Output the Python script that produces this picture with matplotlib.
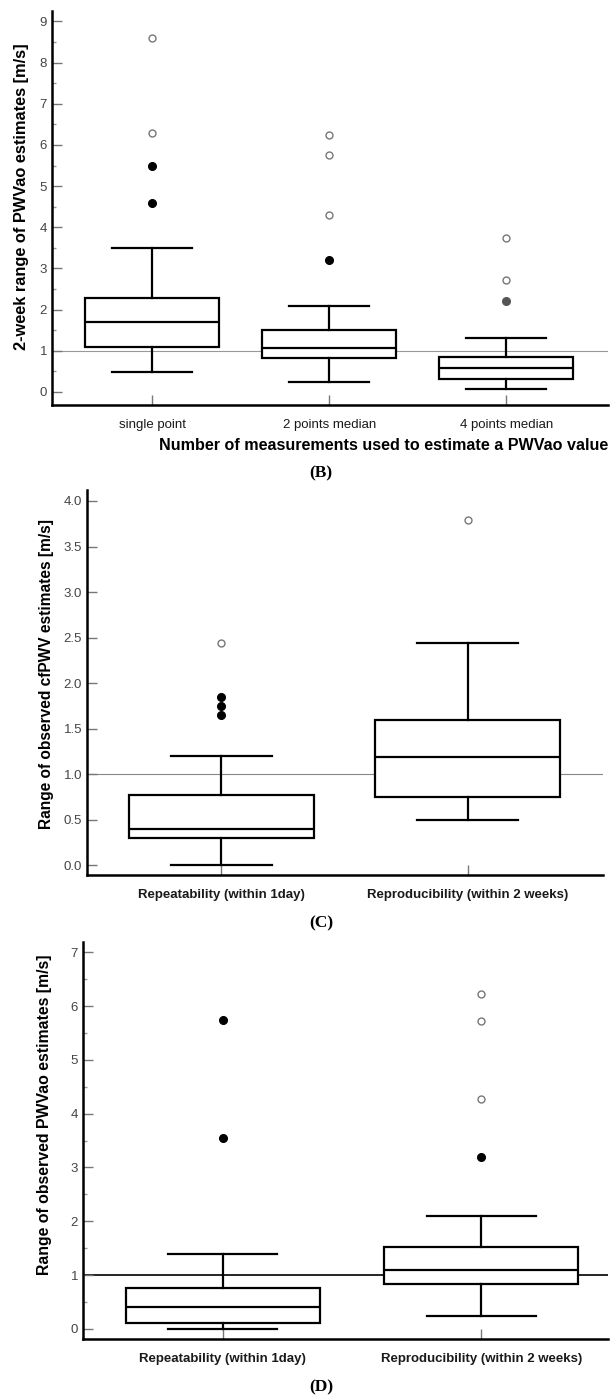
import numpy as np
import matplotlib.pyplot as plt
from matplotlib.ticker import MultipleLocator

plt.rcParams['font.family'] = ['Liberation Sans', 'DejaVu Sans']

# panel (B): 2-week range, by number of measurements
b_labels = ['single point', '2 points median', '4 points median']
b_whislo = [0.48, 0.23, 0.07]
b_q1 = [1.09, 0.83, 0.32]
b_med = [1.69, 1.07, 0.57]
b_q3 = [2.28, 1.51, 0.85]
b_whishi = [3.49, 2.09, 1.31]
b_extreme = [[4.6, 5.5], [3.2], [2.21]]
b_outliers = [[6.29, 8.6], [4.29, 5.75, 6.24], [2.72, 3.73]]

# panel (C): cfPWV
c_labels = ['Repeatability (within 1day)', 'Reproducibility (within 2 weeks)']
c_whislo = [0.0, 0.49]
c_q1 = [0.30, 0.75]
c_med = [0.40, 1.19]
c_q3 = [0.77, 1.59]
c_whishi = [1.20, 2.44]
c_extreme = [[1.65, 1.75, 1.85], []]
c_outliers = [[2.44], [3.79]]

# panel (D): PWVao
d_labels = ['Repeatability (within 1day)', 'Reproducibility (within 2 weeks)']
d_whislo = [0.0, 0.235]
d_q1 = [0.105, 0.83]
d_med = [0.40, 1.09]
d_q3 = [0.77, 1.52]
d_whishi = [1.40, 2.10]
d_extreme = [[3.545, 5.74], [3.2]]
d_outliers = [[], [4.28, 5.72, 6.23]]


def panel(ax, labels, lo, q1, med, q3, hi, extreme, outliers, width, capw,
          xlim, ylim, ref_color, ref_lw, tick_bold, ext_colors=None):
    pos = np.arange(1, len(labels) + 1)
    stats = []
    for i in range(len(labels)):
        stats.append({'whislo': lo[i], 'q1': q1[i], 'med': med[i],
                      'q3': q3[i], 'whishi': hi[i], 'fliers': []})
    ax.axhline(1, color=ref_color, lw=ref_lw, zorder=1)
    line = dict(color='black', linewidth=1.6)
    ax.bxp(stats, positions=pos, widths=width, capwidths=capw,
           showfliers=False, patch_artist=True,
           boxprops=dict(facecolor='white', edgecolor='black', linewidth=1.6),
           medianprops=line, whiskerprops=line, capprops=line, zorder=2)
    for i in range(len(labels)):
        col = 'black' if ext_colors is None else ext_colors[i]
        ax.plot([pos[i]] * len(extreme[i]), extreme[i], 'o', color=col,
                ms=5.5, zorder=3)
        ax.plot([pos[i]] * len(outliers[i]), outliers[i], 'o', mfc='white',
                mec='#777777', mew=1.0, ms=5, zorder=3)
    ax.set_xlim(xlim)
    ax.set_ylim(ylim)
    ax.set_xticks(pos)
    ax.set_xticklabels(labels, fontsize=9 if not tick_bold else 8.1,
                       fontweight='bold' if tick_bold else 'normal')
    ax.spines['top'].set_visible(False)
    ax.spines['right'].set_visible(False)
    ax.spines['left'].set_linewidth(1.8)
    ax.spines['bottom'].set_linewidth(1.8)
    ax.tick_params(direction='in', length=7, width=1, color='#777777',
                   labelcolor='#444444', labelsize=9.5)
    ax.tick_params(axis='x', pad=10, labelcolor='#1a1a1a')
    ax.tick_params(which='minor', direction='in', length=3, width=1,
                   color='#999999')


fig = plt.figure(figsize=(6.1, 13.99), dpi=100)

ax1 = fig.add_axes([0.0852, 0.7105, 0.912, 0.2815])
panel(ax1, b_labels, b_whislo, b_q1, b_med, b_q3, b_whishi, b_extreme,
      b_outliers, 0.757, 0.45, (0.435, 3.576), (-0.32, 9.25), '#999999', 0.8,
      False, ext_colors=['black', 'black', '#555555'])
ax1.yaxis.set_major_locator(MultipleLocator(1))
ax1.yaxis.set_minor_locator(MultipleLocator(0.5))
ax1.set_ylabel('2-week range of PWVao estimates [m/s]', fontsize=11.8,
               fontweight='bold')
ax1.yaxis.set_label_coords(-0.041, 0.53)
fig.text(608 / 610, 1 - 445 / 1399,
         'Number of measurements used to estimate a PWVao value',
         ha='right', va='center', fontsize=11.6, fontweight='bold')

ax2 = fig.add_axes([0.1426, 0.3745, 0.8464, 0.2752])
panel(ax2, c_labels, c_whislo, c_q1, c_med, c_q3, c_whishi, c_extreme,
      c_outliers, 0.75, 0.41, (0.455, 2.55), (-0.11, 4.12), '#888888', 0.8,
      True)
ax2.yaxis.set_major_locator(MultipleLocator(0.5))
ax2.yaxis.set_major_formatter('{x:.1f}')
ax2.set_ylabel('Range of observed cfPWV estimates [m/s]', fontsize=11.2,
               fontweight='bold')
ax2.yaxis.set_label_coords(-0.064, 0.522)

ax3 = fig.add_axes([0.136, 0.0429, 0.861, 0.2838])
panel(ax3, d_labels, d_whislo, d_q1, d_med, d_q3, d_whishi, d_extreme,
      d_outliers, 0.75, 0.42, (0.46, 2.49), (-0.186, 7.19), 'black', 1.2,
      True)
ax3.yaxis.set_major_locator(MultipleLocator(1))
ax3.yaxis.set_minor_locator(MultipleLocator(0.5))
ax3.set_ylabel('Range of observed PWVao estimates [m/s]', fontsize=11.4,
               fontweight='bold')
ax3.yaxis.set_label_coords(-0.059, 0.564)

for cap, ypx in [('(B)', 473), ('(C)', 923), ('(D)', 1387)]:
    fig.text(321 / 610, 1 - ypx / 1399, cap, ha='center', va='center',
             fontsize=12.5, fontweight='bold',
             family=['Liberation Serif', 'DejaVu Serif'])

fig.savefig('out.png', dpi=100)
